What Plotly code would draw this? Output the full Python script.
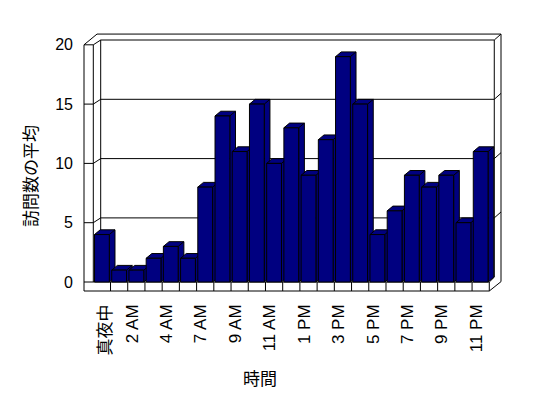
import plotly.graph_objects as go

# ---------------- data ----------------
hour_labels = ["真夜中", "1 AM", "2 AM", "3 AM", "4 AM", "6 AM", "7 AM", "8 AM",
               "9 AM", "10 AM", "11 AM", "正午", "1 PM", "2 PM", "3 PM", "4 PM",
               "5 PM", "6 PM", "7 PM", "8 PM", "9 PM", "10 PM", "11 PM"]
avg_visits = [4, 1, 1, 2, 3, 2, 8, 14, 11, 15, 10, 13, 9, 12, 19, 15,
              4, 6, 9, 8, 9, 5, 11]
y_ticks = [0, 5, 10, 15, 20]
y_title = "訪問数の平均"
x_title = "時間"

# ---------------- geometry ----------------
PAGE_OFF = 8             # browser body margin
W, H = 540, 390
ML, MR, MT, MB = 72, 43, 22, 98
PX_CAT = 17.217          # pixels per category
PX_UNIT = 11.86          # pixels per value unit
FRONT_LEFT_PX = 93.3 - PAGE_OFF   # figure pixel x of category -0.5
ZERO_PX = 282.0 - PAGE_OFF        # figure pixel y of value 0 (front plane)

def ux(px):
    return (px - FRONT_LEFT_PX) / PX_CAT - 0.5

def vy(py):
    return (ZERO_PX - py) / PX_UNIT

x_range = [ux(ML), ux(W - MR)]
y_range = [vy(H - MB), vy(MT)]

n = len(avg_visits)
BAR_W = 0.86
BDX, BDY = 0.33, 0.40          # bar depth offset
WDY = 0.405                    # wall depth (vertical)
BACK_L, BACK_R = -0.07, 22.79  # back wall inner horizontal extent
TDX, TDY = 0.39, 0.50          # back wall thickness
LEFT_OUT = -1.04               # left wall outer face
FLOOR_BOT = -0.76
YMAX = y_ticks[-1]
FRONT_L, FRONT_R = -0.5, n - 0.5
NAVY = "#000080"

fig = go.Figure()

# side + top faces of each bar
for i, v in enumerate(avg_visits):
    xl, xr = i - BAR_W / 2, i + BAR_W / 2
    xs = [xl, xl + BDX, xr + BDX, xr + BDX, xr, xr, xl, None, xr, xr + BDX]
    ys = [v, v + BDY, v + BDY, BDY, 0, v, v, None, v, v + BDY]
    fig.add_trace(go.Scatter(x=xs, y=ys, mode="lines", fill="toself",
                             fillcolor=NAVY, line=dict(color="black", width=1),
                             hoverinfo="skip", showlegend=False, zorder=0))

# front faces
fig.add_trace(go.Bar(x=list(range(n)), y=avg_visits, width=BAR_W,
                     marker=dict(color=NAVY, line=dict(color="black", width=1)),
                     customdata=hour_labels, hovertemplate="%{customdata}: %{y}<extra></extra>",
                     showlegend=False, zorder=1))

# ---------------- frame (walls and floor) ----------------
shapes = []
def seg(x0, y0, x1, y1):
    shapes.append(dict(type="line", xref="x", yref="y", x0=x0, y0=y0, x1=x1, y1=y1,
                       line=dict(color="black", width=1), layer="below"))

top_b = YMAX + WDY
out_top = top_b + TDY
out_r = BACK_R + TDX
corner_x = -0.285
# back wall inner rectangle
seg(BACK_L, top_b, BACK_R, top_b)
seg(BACK_L, top_b, BACK_L, WDY)
seg(BACK_R, top_b, BACK_R, WDY)
# back wall thickness
seg(corner_x, out_top, out_r, out_top)
seg(out_r, out_top, out_r, 0.03)
seg(BACK_R, top_b, out_r, out_top)
# left wall
seg(LEFT_OUT, YMAX, LEFT_OUT, FLOOR_BOT)
seg(FRONT_L, YMAX, FRONT_L, 0)
seg(LEFT_OUT, YMAX, FRONT_L, YMAX)
seg(FRONT_L, YMAX, BACK_L, top_b)
seg(LEFT_OUT, YMAX, corner_x, out_top)
# gridlines
for t in y_ticks[1:-1]:
    seg(LEFT_OUT, t, FRONT_L, t)
    seg(FRONT_L, t, BACK_L, t + WDY)
    seg(BACK_L, t + WDY, BACK_R, t + WDY)
    seg(BACK_R, t + WDY, out_r, t + WDY + TDY)
# floor
seg(LEFT_OUT, 0, FRONT_R, 0)
seg(LEFT_OUT, FLOOR_BOT, FRONT_R, FLOOR_BOT)
seg(FRONT_R, FLOOR_BOT, FRONT_R, 0)
seg(FRONT_R, FLOOR_BOT, out_r, 0.03)
seg(FRONT_R, 0, BACK_R, WDY)
for k in range(n - 1):
    seg(k + 0.5, FLOOR_BOT, k + 0.5, 0)

LAT = "Liberation Sans, Arial, Noto Sans CJK JP, sans-serif"
JP = "Noto Sans CJK JP, sans-serif"

tick_idx = list(range(0, n, 2))
tick_pos = [i + (0.2 if not hour_labels[i].isascii() else -0.25) for i in tick_idx]
fig.update_layout(
    width=W, height=H,
    margin=dict(l=ML, r=MR, t=MT, b=MB, pad=0),
    paper_bgcolor="white", plot_bgcolor="white",
    shapes=shapes,
    showlegend=False,
    xaxis=dict(range=x_range, showgrid=False, zeroline=False, showline=False,
               tickmode="array", tickvals=tick_pos,
               ticktext=[hour_labels[i] for i in tick_idx],
               tickangle=-90, ticks="", ticklabelstandoff=0,
               tickfont=dict(family=LAT, size=17, color="black")),
    yaxis=dict(range=y_range, showgrid=False, zeroline=False, showline=False,
               tickmode="array", tickvals=y_ticks, ticks="", ticklabelstandoff=6,
               tickfont=dict(family=LAT, size=16, color="black")),
    annotations=[
        dict(text=y_title, xref="paper", yref="paper",
             x=(29 - PAGE_OFF - ML) / (W - ML - MR),
             y=(H - MB - (176 - PAGE_OFF)) / (H - MT - MB),
             showarrow=False, textangle=-90, xanchor="center", yanchor="middle",
             font=dict(family=JP, size=17, color="black")),
        dict(text=x_title, xref="paper", yref="paper",
             x=(260 - PAGE_OFF - ML) / (W - ML - MR),
             y=(H - MB - (377 - PAGE_OFF)) / (H - MT - MB),
             showarrow=False, xanchor="center", yanchor="middle",
             font=dict(family=JP, size=17, color="black")),
    ],
)

fig.write_html("out.html")
